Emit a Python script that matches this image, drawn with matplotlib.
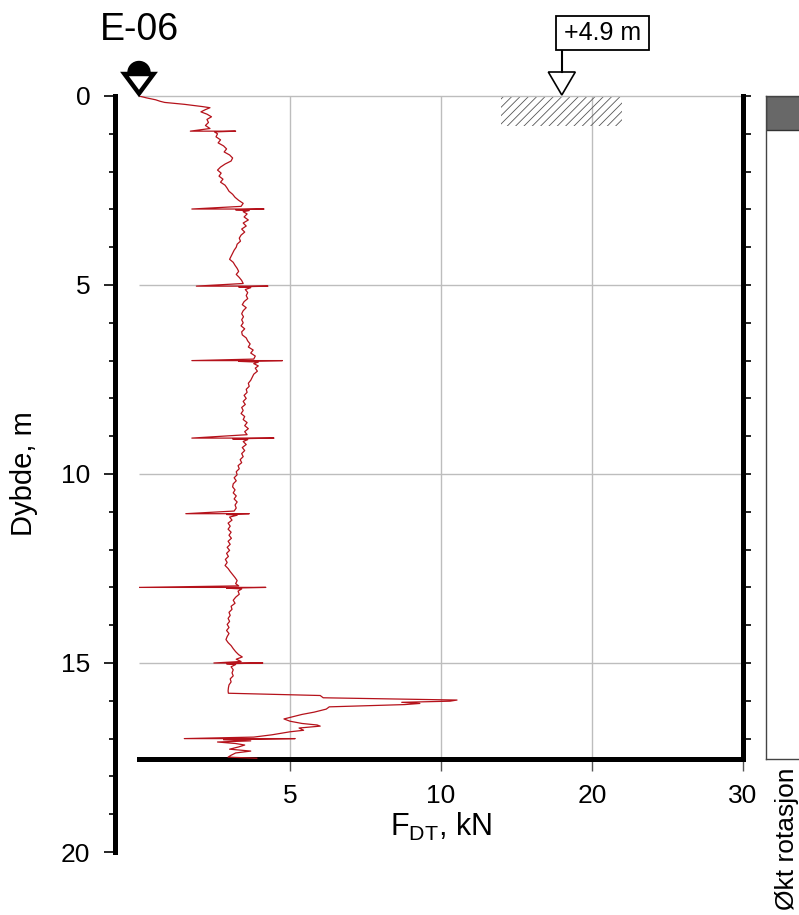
import numpy as np
import matplotlib.pyplot as plt
from matplotlib.patches import Polygon, Circle, Rectangle
from matplotlib.ticker import MultipleLocator
from matplotlib.transforms import ScaledTranslation

plt.rcParams['font.family'] = ['Liberation Sans', 'DejaVu Sans']
plt.rcParams['mathtext.fontset'] = 'custom'
plt.rcParams['mathtext.rm'] = 'Liberation Sans'
plt.rcParams['hatch.linewidth'] = 0.6

# sounding log, depth in m and force in kN
depth = [0.00, 0.05, 0.10, 0.14, 0.17, 0.22, 0.28, 0.31, 0.36, 0.42, 0.48, 0.55, 0.62, 0.70, 0.78, 0.86,
         0.93, 0.93, 0.95, 1.00, 1.08, 1.16, 1.24, 1.32, 1.40, 1.48, 1.56, 1.64, 1.72, 1.80, 1.88, 1.96,
         2.04, 2.12, 2.20, 2.28, 2.36, 2.44, 2.52, 2.60, 2.68, 2.76, 2.84, 2.92,
         2.99, 2.99, 3.01, 3.03, 3.06, 3.12, 3.20, 3.28, 3.36, 3.44, 3.52, 3.60, 3.68, 3.76, 3.84, 3.92,
         4.00, 4.08, 4.16, 4.24, 4.32, 4.40, 4.48, 4.56, 4.64, 4.72, 4.80, 4.88, 4.96,
         5.03, 5.03, 5.05, 5.07, 5.12, 5.20, 5.28, 5.36, 5.44, 5.52, 5.60, 5.68, 5.76, 5.84, 5.92,
         6.00, 6.08, 6.16, 6.24, 6.32, 6.40, 6.48, 6.56, 6.64, 6.72, 6.80, 6.88, 6.96,
         7.00, 7.00, 7.02, 7.04, 7.08, 7.14, 7.20, 7.28, 7.36, 7.44, 7.52, 7.60, 7.68, 7.76, 7.84, 7.92,
         8.00, 8.08, 8.16, 8.24, 8.32, 8.40, 8.48, 8.56, 8.64, 8.72, 8.80, 8.88, 8.96,
         9.05, 9.05, 9.07, 9.09, 9.14, 9.22, 9.30, 9.38, 9.46, 9.54, 9.62, 9.70, 9.78, 9.86, 9.94,
         10.02, 10.10, 10.18, 10.26, 10.34, 10.42, 10.50, 10.58, 10.66, 10.74, 10.82, 10.90, 10.98,
         11.05, 11.05, 11.07, 11.09, 11.14, 11.22, 11.30, 11.38, 11.46, 11.54, 11.62, 11.70, 11.78, 11.86, 11.94,
         12.02, 12.10, 12.18, 12.26, 12.34, 12.42, 12.50, 12.58, 12.66, 12.74, 12.82, 12.90, 12.96,
         13.00, 13.00, 13.02, 13.04, 13.10, 13.18, 13.26, 13.34, 13.42, 13.50, 13.58, 13.66, 13.74, 13.82, 13.90, 13.98,
         14.06, 14.14, 14.22, 14.30, 14.38, 14.46, 14.54, 14.62, 14.70, 14.78, 14.84, 14.90, 14.96,
         15.00, 15.00, 15.02, 15.04, 15.10, 15.18, 15.26, 15.34, 15.42, 15.50, 15.58, 15.66, 15.74, 15.80,
         15.86, 15.92, 15.98, 16.01, 16.04, 16.07, 16.10, 16.16, 16.22, 16.30, 16.36, 16.42, 16.48, 16.54,
         16.60, 16.64, 16.67, 16.72, 16.78, 16.82, 16.90, 16.96,
         17.00, 17.00, 17.03, 17.06, 17.09, 17.13, 17.17, 17.22, 17.28, 17.33, 17.38, 17.44, 17.49, 17.52]
force = [0.00, 0.25, 0.55, 0.70, 0.85, 1.50, 2.10, 2.35, 2.20, 2.05, 2.25, 2.40, 2.25, 2.30, 2.20, 2.35,
         1.70, 3.20, 2.50, 2.60, 2.55, 2.70, 2.62, 2.80, 2.90, 2.82, 3.00, 3.10, 3.05, 2.85, 2.70, 2.60,
         2.72, 2.65, 2.78, 2.70, 2.85, 2.92, 2.98, 3.10, 3.18, 3.30, 3.45, 3.38,
         1.75, 4.14, 3.20, 3.65, 3.45, 3.58, 3.48, 3.62, 3.45, 3.55, 3.40, 3.50, 3.38, 3.32, 3.36, 3.25,
         3.22, 3.15, 3.10, 3.05, 3.00, 3.12, 3.18, 3.25, 3.30, 3.22, 3.32, 3.40, 3.45,
         1.90, 4.27, 3.30, 3.70, 3.52, 3.60, 3.55, 3.60, 3.48, 3.42, 3.55, 3.45, 3.40, 3.46, 3.40,
         3.45, 3.38, 3.50, 3.40, 3.42, 3.55, 3.60, 3.68, 3.62, 3.78, 3.70, 3.85, 3.80,
         1.75, 4.75, 3.30, 3.95, 3.80, 3.95, 3.85, 3.92, 3.80, 3.75, 3.70, 3.62, 3.65, 3.55, 3.58, 3.48,
         3.55, 3.45, 3.52, 3.40, 3.45, 3.38, 3.50, 3.45, 3.58, 3.50, 3.62, 3.50, 3.58,
         1.75, 4.47, 3.10, 3.60, 3.45, 3.55, 3.42, 3.50, 3.40, 3.45, 3.35, 3.40, 3.28, 3.32, 3.22,
         3.25, 3.15, 3.22, 3.12, 3.10, 3.18, 3.12, 3.22, 3.15, 3.25, 3.18, 3.22, 3.15,
         1.55, 3.65, 2.90, 3.25, 3.00, 3.08, 2.95, 3.02, 2.95, 3.05, 2.98, 3.06, 2.95, 3.02, 2.92,
         3.00, 2.90, 2.96, 2.86, 2.92, 2.85, 2.95, 3.02, 3.10, 3.18, 3.25, 3.20, 3.30,
         0.00, 4.20, 2.90, 3.40, 3.28, 3.32, 3.20, 3.12, 3.18, 3.05, 3.08, 2.98, 3.02, 2.95, 3.00, 2.92,
         2.98, 2.90, 2.98, 2.92, 2.88, 2.95, 3.05, 3.12, 3.20, 3.30, 3.42, 3.22, 3.38,
         2.48, 4.10, 2.90, 3.20, 3.05, 3.12, 3.08, 3.12, 3.02, 3.05, 2.98, 2.96, 2.95, 2.96,
         6.00, 6.10, 11.06, 10.60, 8.70, 9.30, 8.80, 6.30, 6.20, 5.80, 5.40, 5.10, 4.80, 5.00,
         5.40, 5.90, 6.00, 5.30, 5.45, 5.00, 4.40, 3.80,
         1.50, 5.17, 2.80, 3.70, 2.60, 3.20, 3.50, 3.30, 3.00, 3.70, 3.20, 3.05, 2.95, 3.90]

x_ticks = [5, 10, 20, 30]
y_ticks = [0, 5, 10, 15, 20]
grid_x = [5, 10, 20]
grid_y = [5, 10, 15]
end_depth = 17.55
rotation_depth = 0.9
fill_x = [14, 22]
fill_depth = 0.8
level_x = 18
level_text = '+4.9 m'
title = 'E-06'


def fwd(x):
    x = np.asarray(x, dtype=float)
    return np.where(x <= 10, x, 10 + (x - 10) / 2)


def inv(x):
    x = np.asarray(x, dtype=float)
    return np.where(x <= 10, x, 10 + (x - 10) * 2)


fig = plt.figure(figsize=(7.99, 9.15), dpi=100)
ax = fig.add_axes([139 / 799, 63 / 915, 604 / 799, 756 / 915])
ax.set_xscale('function', functions=(fwd, inv))
ax.set_xlim(0, 30)
ax.set_ylim(20, 0)

gc = '#bdbdbd'
ax.vlines(grid_x, 0, end_depth, color=gc, lw=1, zorder=1)
ax.hlines(grid_y, 0, 30, color=gc, lw=1, zorder=1)

ax.add_patch(Rectangle((fill_x[0], 0), fill_x[1] - fill_x[0], fill_depth,
                       fill=False, hatch='////', edgecolor='#555555', lw=0, zorder=1))

ax.plot(force, depth, color='#b5121b', lw=0.9, zorder=3)

# spines
ax.spines['top'].set_color(gc)
ax.spines['top'].set_linewidth(1)
ax.spines['right'].set_visible(False)
ax.spines['left'].set_position(('outward', 17))
ax.spines['left'].set_linewidth(3.6)
ax.spines['bottom'].set_position(('data', end_depth))
ax.spines['bottom'].set_linewidth(3.6)

ax.set_xticks(x_ticks)
ax.set_xticklabels([str(t) for t in x_ticks])
ax.tick_params(axis='x', length=8.5, width=1, color='#555555', labelsize=19, pad=9)
ax.set_yticks(y_ticks)
ax.yaxis.set_minor_locator(MultipleLocator(1))
ax.tick_params(axis='y', which='major', length=8, width=1.2, labelsize=19, pad=10)
ax.tick_params(axis='y', which='minor', length=4.3, width=1.2)

ax.set_xlabel(r'F$_{\mathrm{DT}}$, kN', fontsize=22, labelpad=2)
ax.set_ylabel('Dybde, m', fontsize=21)
ax.yaxis.set_label_coords(-0.167, 0.5)

# right spine with ticks down to the end depth
axr = ax.twinx()
axr.set_ylim(20, 0)
for s in ['top', 'bottom', 'left']:
    axr.spines[s].set_visible(False)
axr.spines['right'].set_bounds(0, end_depth)
axr.spines['right'].set_linewidth(3.6)
axr.set_yticks(np.arange(0, 18))
axr.set_yticklabels([])
axr.tick_params(axis='y', length=5.5, width=1.2)

# top symbol at start of sounding
tr = fig.dpi_scale_trans + ScaledTranslation(0, 0, ax.transData)
fig.add_artist(Circle((0, 0.235), 0.11, transform=tr, color='black', zorder=5))
fig.add_artist(Polygon([(0, 0.025), (-0.145, 0.22), (0.145, 0.22)], closed=True, transform=tr,
                       facecolor='white', edgecolor='black', lw=3.2, joinstyle='miter', zorder=6))

# terrain level marker
tr2 = fig.dpi_scale_trans + ScaledTranslation(level_x, 0, ax.transData)
fig.add_artist(Polygon([(0, 0.01), (-0.135, 0.24), (0.135, 0.24)], closed=True, transform=tr2,
                       facecolor='white', edgecolor='black', lw=1.2, zorder=6))
fig.add_artist(plt.Line2D([0, 0], [0.24, 0.46], transform=tr2, color='black', lw=1.5, zorder=6))
fig.add_artist(Rectangle((-0.06, 0.46), 0.93, 0.34, transform=tr2, facecolor='white',
                         edgecolor='black', lw=1.3, zorder=6))
fig.text(0.405, 0.625, level_text, transform=tr2, ha='center', va='center', fontsize=18, zorder=7)

# rotation column
axc = fig.add_axes([766 / 799, 156 / 915, 60 / 799, 663 / 915])
axc.set_xlim(0, 1)
axc.set_ylim(end_depth, 0)
axc.add_patch(Rectangle((0, 0), 1, rotation_depth, facecolor='#686868', edgecolor='#333333', lw=1))
for s in axc.spines.values():
    s.set_color('#444444')
    s.set_linewidth(1)
axc.set_xticks([])
axc.set_yticks([])
fig.text(787 / 799, 1 - 768 / 915, 'Økt rotasjon', rotation=90, ha='center', va='top', fontsize=19)

fig.text(100 / 799, 1 - 40 / 915, title, fontsize=27, va='baseline')

fig.savefig('out.png', dpi=100)
